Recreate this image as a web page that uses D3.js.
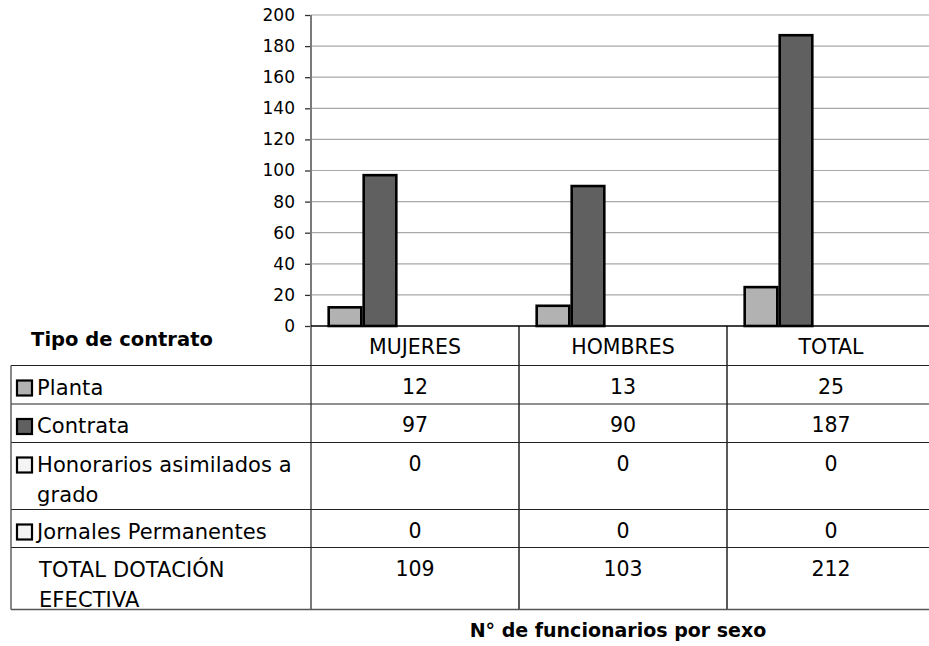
<!DOCTYPE html>
<html>
<head>
<meta charset="utf-8">
<script src="https://cdn.jsdelivr.net/npm/d3@7"></script>
<style>
  html, body { margin: 0; padding: 0; background: #fff; }
  svg { display: block; }
  text { font-family: "DejaVu Sans", Verdana, sans-serif; fill: #000; }
</style>
</head>
<body>
<svg id="chart" width="929" height="646"></svg>
<script>
// Categories (columns) and the rows of the data table
const categories = ["MUJERES", "HOMBRES", "TOTAL"];
const seriesKeys = ["Planta", "Contrata", "Honorarios", "Jornales", "Total"];
const seriesLabels = [
  ["Planta"],
  ["Contrata"],
  ["Honorarios asimilados a", "grado"],
  ["Jornales Permanentes"],
  ["TOTAL DOTACIÓN", "EFECTIVA"]
];

// Values per category
const planta = [12, 13, 25];
const contrata = [97, 90, 187];
const honorarios = [0, 0, 0];
const jornales = [0, 0, 0];
const totalDotacion = [109, 103, 212];

const yTicks = [0, 20, 40, 60, 80, 100, 120, 140, 160, 180, 200];
const axisTitle = "N° de funcionarios por sexo";
const tableTitle = "Tipo de contrato";

// Rows as drawn in table and chart; the total row has no bar
const rows = [planta, contrata, honorarios, jornales, totalDotacion]
  .map((vals, i) => ({ key: seriesKeys[i], label: seriesLabels[i], values: vals }));
const barRows = rows.slice(0, 4);

// Styling
const fills = { Planta: "#b2b2b2", Contrata: "#606060", Honorarios: "#f4f4f4", Jornales: "#f4f4f4" };

// Layout
const plotLeft = 311, plotRight = 935, plotTop = 15, baseY = 326;
const tableLeft = 11;
const headerBottom = 365.5;
const rowHeights = [38.5, 38.5, 67, 38, 62];

const svg = d3.select("#chart");

const y = d3.scaleLinear().domain([0, 200]).range([baseY, plotTop]);
const x0 = d3.scaleBand().domain(categories).range([plotLeft, plotRight]).padding(0);
const x1 = d3.scaleBand().domain(seriesKeys).range([0, x0.bandwidth()])
  .paddingInner(0).paddingOuter(0.471);

// Gridlines
svg.append("g")
  .selectAll("line")
  .data(yTicks.filter(t => t > 0))
  .join("line")
  .attr("x1", plotLeft).attr("x2", plotRight)
  .attr("y1", d => y(d)).attr("y2", d => y(d))
  .attr("stroke", "#a8a8a8").attr("stroke-width", 1.2);

// Y axis
const yAxis = svg.append("g")
  .attr("transform", `translate(${plotLeft},0)`)
  .call(d3.axisLeft(y).tickValues(yTicks).tickSize(6).tickPadding(10));
yAxis.select(".domain").remove();
yAxis.selectAll(".tick line").attr("stroke", "#333").attr("stroke-width", 1.3);
yAxis.selectAll(".tick text")
  .attr("font-size", 17)
  .attr("font-family", "DejaVu Sans, Verdana, sans-serif")
  .attr("fill", "#000");

// Bars
const groups = svg.append("g")
  .selectAll("g")
  .data(categories)
  .join("g")
  .attr("transform", d => `translate(${x0(d)},0)`);

groups.selectAll("rect")
  .data((c, ci) => barRows.map(r => ({ key: r.key, value: r.values[ci] })))
  .join("rect")
  .attr("x", d => x1(d.key) + 1.2)
  .attr("width", x1.bandwidth() - 2.4)
  .attr("y", d => y(d.value))
  .attr("height", d => baseY - y(d.value))
  .attr("fill", d => fills[d.key])
  .attr("stroke", "#000")
  .attr("stroke-width", 2.6);

// Table grid
const rowTops = [headerBottom];
rowHeights.forEach((h, i) => rowTops.push(rowTops[i] + h));
const tableBottom = rowTops[rowTops.length - 1];

const grid = svg.append("g");
// vertical axis line continuing through the table
grid.append("line")
  .attr("x1", plotLeft).attr("x2", plotLeft)
  .attr("y1", plotTop).attr("y2", tableBottom)
  .attr("stroke", "#7a7a7a").attr("stroke-width", 2);
// category separators
grid.selectAll("line.sep")
  .data(categories.slice(1))
  .join("line")
  .attr("class", "sep")
  .attr("x1", d => x0(d)).attr("x2", d => x0(d))
  .attr("y1", baseY).attr("y2", tableBottom)
  .attr("stroke", "#000").attr("stroke-width", 1.3);
// baseline
grid.append("line")
  .attr("x1", plotLeft).attr("x2", plotRight)
  .attr("y1", baseY).attr("y2", baseY)
  .attr("stroke", "#000").attr("stroke-width", 1.6);
// horizontal row lines
grid.selectAll("line.row")
  .data(rowTops)
  .join("line")
  .attr("class", "row")
  .attr("x1", tableLeft).attr("x2", plotRight)
  .attr("y1", d => d).attr("y2", d => d)
  .attr("stroke", (d, i) => i === rowTops.length - 1 ? "#555" : "#222")
  .attr("stroke-width", (d, i) => i === rowTops.length - 1 ? 1.6 : 1.2);
// left border
grid.append("line")
  .attr("x1", tableLeft).attr("x2", tableLeft)
  .attr("y1", headerBottom).attr("y2", tableBottom)
  .attr("stroke", "#555").attr("stroke-width", 1.4);

// Header labels
svg.append("g")
  .selectAll("text")
  .data(categories)
  .join("text")
  .attr("x", d => x0(d) + x0.bandwidth() / 2)
  .attr("y", baseY + 28)
  .attr("text-anchor", "middle")
  .attr("font-size", 20.5)
  .text(d => d);

// Row labels with legend keys
const lineGap = 30;
const rowG = svg.append("g")
  .selectAll("g")
  .data(rows)
  .join("g")
  .attr("transform", (d, i) => `translate(0,${rowTops[i]})`);

rowG.filter(d => fills[d.key])
  .append("rect")
  .attr("x", 17).attr("y", 15)
  .attr("width", 15).attr("height", 15)
  .attr("fill", d => fills[d.key])
  .attr("stroke", "#000").attr("stroke-width", 2.2);

rowG.each(function(d) {
  const t = d3.select(this).append("text")
    .attr("x", fills[d.key] ? 37 : 39)
    .attr("y", 29)
    .attr("font-size", 21)
    .attr("letter-spacing", 0.1);
  d.label.forEach((line, li) => {
    t.append("tspan")
      .attr("x", fills[d.key] ? 37 : 39)
      .attr("y", 29 + li * lineGap)
      .text(line);
  });
});

// Table values
rowG.selectAll("text.val")
  .data(d => d.values.map((v, ci) => ({ v, c: categories[ci] })))
  .join("text")
  .attr("class", "val")
  .attr("x", d => x0(d.c) + x0.bandwidth() / 2)
  .attr("y", 28)
  .attr("text-anchor", "middle")
  .attr("font-size", 20.5)
  .text(d => d.v);

// Titles
svg.append("text")
  .attr("x", 122)
  .attr("y", 346)
  .attr("text-anchor", "middle")
  .attr("font-size", 19.5)
  .attr("font-weight", "bold")
  .text(tableTitle);

svg.append("text")
  .attr("x", 618)
  .attr("y", 636.5)
  .attr("text-anchor", "middle")
  .attr("font-size", 19)
  .attr("font-weight", "bold")
  .text(axisTitle);
</script>
</body>
</html>
